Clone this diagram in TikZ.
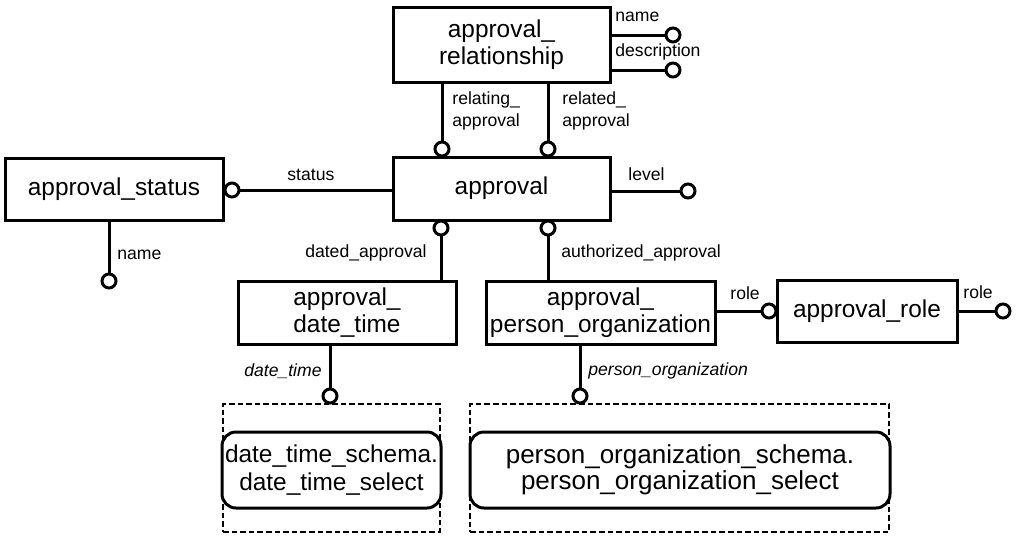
\documentclass[tikz,border=0pt]{standalone}
\usepackage{fontspec}
\setmainfont{Liberation Sans}
\newcommand{\entfont}{\fontsize{12.2}{13.6}\selectfont}
\newcommand{\rolefont}{\fontsize{8.8}{11}\selectfont}
\begin{document}
\begin{tikzpicture}[x=0.5pt, y=-0.5pt,
		entity/.style = {draw, line width=1.5pt, align=center, inner sep=0pt, outer sep=0pt, font=\entfont},
		attr/.style = {circle, draw, line width=1.5pt, fill=white, minimum size=7pt, inner sep=0pt, outer sep=0pt},
		lbl/.style = {font=\rolefont, inner sep=0pt, align=left},
		rel/.style = {line width=1.5pt},
		schema/.style = {draw, line width=0.75pt, dash pattern=on 2.8pt off 1.5pt, inner sep=0pt, outer sep=0pt},
		sel/.style = {draw, rounded corners=7pt, line width=1.5pt, fill=white, align=center, inner sep=0pt, outer sep=0pt, font=\entfont}]
		\useasboundingbox [fill=white] (0,0) rectangle (1019,543);
		
		\node [schema, minimum width=108.5pt, minimum height=64pt] (dtschema) at (331.5,468) {};
		\node [schema, minimum width=209.5pt, minimum height=64pt] (poschema) at (679.5,468) {};
		\node [sel, minimum width=109.5pt, minimum height=38pt] (dtselect) at (331.5,470) {date\_time\_schema.\\date\_time\_select};
		\node [sel, minimum width=210pt, minimum height=38pt, font=\fontsize{13}{13.2}\selectfont] (poselect) at (680,470) {person\_organization\_schema.\\person\_organization\_select};
		
		\node [entity, minimum width=108.5pt, minimum height=37.5pt] (relship) at (501.5,44.5) {approval\_\\relationship};
		\node [entity, minimum width=108.5pt, minimum height=31.5pt] (approval) at (501.5,188.5) {approval};
		\node [entity, minimum width=109pt, minimum height=31pt] (status) at (114,189) {approval\_status};
		\node [entity, minimum width=109pt, minimum height=31.5pt] (datetime) at (347,312.5) {approval\_\\date\_time};
		\node [entity, minimum width=114.5pt, minimum height=31.5pt] (personorg) at (600.5,312.5) {approval\_\\person\_organization};
		\node [entity, minimum width=90pt, minimum height=31pt] (role) at (867,311) {approval\_role};
		
		\node [attr] (cName) at (673,35) {};
		\node [attr] (cDesc) at (673,70) {};
		\node [attr] (cRelating) at (442,149) {};
		\node [attr] (cRelated) at (548,149) {};
		\node [attr] (cStatus) at (232,190) {};
		\node [attr] (cLevel) at (688,191) {};
		\node [attr] (cStatName) at (109,281) {};
		\node [attr] (cDated) at (441,228) {};
		\node [attr] (cAuth) at (548,228) {};
		\node [attr] (cRole) at (769,311) {};
		\node [attr] (cRoleR) at (1003,311) {};
		\node [attr] (cDT) at (330,396) {};
		\node [attr] (cPO) at (580,396) {};
		
		\draw [rel] (relship.east |- cName) -- (cName);
		\draw [rel] (relship.east |- cDesc) -- (cDesc);
		\draw [rel] (cRelating |- relship.south) -- (cRelating);
		\draw [rel] (cRelated |- relship.south) -- (cRelated);
		\draw [rel] (cStatus) -- (approval.west |- cStatus);
		\draw [rel] (approval.east |- cLevel) -- (cLevel);
		\draw [rel] (cStatName |- status.south) -- (cStatName);
		\draw [rel] (cDated) -- (cDated |- datetime.north);
		\draw [rel] (cAuth) -- (cAuth |- personorg.north);
		\draw [rel] (personorg.east |- cRole) -- (cRole);
		\draw [rel] (role.east |- cRoleR) -- (cRoleR);
		\draw [rel] (cDT |- datetime.south) -- (cDT);
		\draw [rel] (cPO |- personorg.south) -- (cPO);
		
		\node [lbl, anchor=west] (lName) at (615,17) {name};
		\node [lbl, anchor=west] (lDesc) at (615,52) {description};
		\node [lbl, anchor=west] (lRelating) at (452,111) {relating\_\\approval};
		\node [lbl, anchor=west] (lRelated) at (562,111) {related\_\\approval};
		\node [lbl, anchor=west] (lStatus) at (287,175) {status};
		\node [lbl, anchor=west] (lLevel) at (628,174) {level};
		\node [lbl, anchor=west] (lStatName) at (117,255) {name};
		\node [lbl, anchor=east] (lDated) at (427,253) {dated\_approval};
		\node [lbl, anchor=west] (lAuth) at (561,253) {authorized\_approval};
		\node [lbl, anchor=west] (lRoleL) at (730,293) {role};
		\node [lbl, anchor=west] (lRoleR) at (963,292) {role};
		\node [lbl, anchor=east, font=\rolefont\itshape] (lDT) at (322,371) {date\_time};
		\node [lbl, anchor=west, font=\rolefont\itshape] (lPO) at (588,371) {person\_organization};
		
\end{tikzpicture}
\end{document}
